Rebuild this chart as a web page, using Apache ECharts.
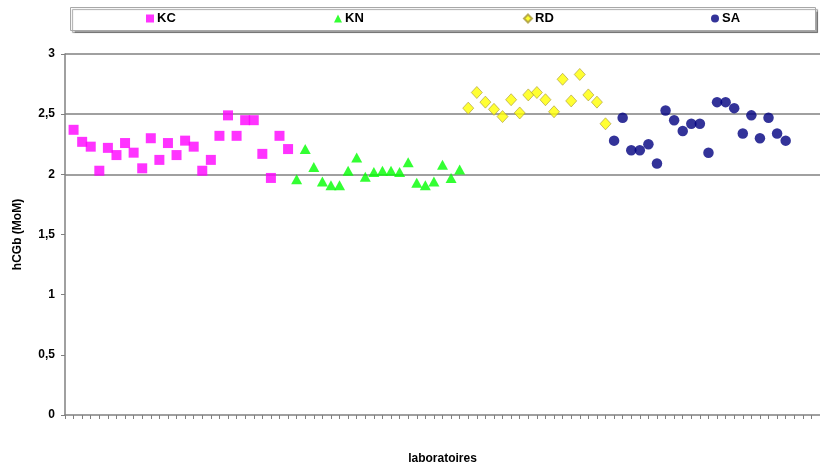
<!DOCTYPE html>
<html>
<head>
<meta charset="utf-8">
<script src="https://cdn.jsdelivr.net/npm/echarts@6/dist/echarts.min.js"></script>
<style>html,body{margin:0;padding:0;background:#fff;}#c{width:820px;height:470px;}</style>
</head>
<body>
<div id="c"></div>
<script>
// ---- data ----
const labCount = 89; // category slots on the x axis (index 0 empty)
const categories = Array.from({length: labCount}, () => '');
const yTicks = ['0', '0,5', '1', '1,5', '2', '2,5', '3'];

const kcStart = 1;
const kcValues = [2.37, 2.27, 2.23, 2.03, 2.22, 2.16, 2.26, 2.18, 2.05, 2.30, 2.12, 2.26, 2.16, 2.28, 2.23, 2.03, 2.12, 2.32, 2.49, 2.32, 2.45, 2.45, 2.17, 1.97, 2.32, 2.21];

const knStart = 27;
const knValues = [1.96, 2.21, 2.06, 1.94, 1.91, 1.91, 2.03, 2.14, 1.98, 2.02, 2.03, 2.03, 2.02, 2.10, 1.93, 1.91, 1.94, 2.08, 1.97, 2.04];

const rdStart = 47;
const rdValues = [2.55, 2.68, 2.60, 2.54, 2.48, 2.62, 2.51, 2.66, 2.68, 2.62, 2.52, 2.79, 2.61, 2.83, 2.66, 2.60, 2.42];

const saStart = 64;
const saValues = [2.28, 2.47, 2.20, 2.20, 2.25, 2.09, 2.53, 2.45, 2.36, 2.42, 2.42, 2.18, 2.60, 2.60, 2.55, 2.34, 2.49, 2.30, 2.47, 2.34, 2.28];

const seriesNames = ['KC', 'KN', 'RD', 'SA'];

function pairs(start, vals) { return vals.map((v, i) => [start + i, v]); }

const FONT = 'Liberation Sans, Arial, sans-serif';
const chart = echarts.init(document.getElementById('c'), null, {renderer: 'canvas'});

const legendLeft = [146, 334, 523, 711];
const legendIcons = ['rect', 'triangle', 'diamond', 'circle'];

const option = {
  backgroundColor: '#fff',
  animation: false,
  graphic: [{
    type: 'rect', z: -1,
    shape: {x: 70.5, y: 7.5, width: 745, height: 23},
    style: {fill: '#fff', stroke: '#a8a8a8', lineWidth: 1, shadowColor: 'rgba(0,0,0,0.35)', shadowOffsetX: 2, shadowOffsetY: 2, shadowBlur: 1}
  }],
  legend: seriesNames.map((n, i) => ({
    data: [{name: n, icon: legendIcons[i]}],
    left: legendLeft[i], top: 12, padding: 0,
    itemWidth: 8, itemHeight: 8, itemGap: 0,
    textStyle: {fontFamily: FONT, fontWeight: 'bold', fontSize: 13, color: '#000', padding: [0, 0, 0, -2]},
    selectedMode: false
  })),
  grid: {left: 65, top: 54, width: 758, height: 366, containLabel: false},
  xAxis: {
    type: 'category', data: categories, boundaryGap: false,
    name: 'laboratoires', nameLocation: 'middle', nameGap: 38,
    nameTextStyle: {fontFamily: FONT, fontWeight: 'bold', fontSize: 12, color: '#000'},
    axisLine: {lineStyle: {color: '#808080', width: 1.5}},
    axisTick: {show: true, interval: 0, length: 4, inside: false, lineStyle: {color: '#808080'}},
    axisLabel: {show: false},
    splitLine: {show: false}
  },
  yAxis: {
    type: 'value', min: 0, max: 3, interval: 0.5,
    name: 'hCGb (MoM)', nameLocation: 'middle', nameGap: 41, nameRotate: 90,
    nameTextStyle: {fontFamily: FONT, fontWeight: 'bold', fontSize: 12, color: '#000'},
    axisLine: {show: true, lineStyle: {color: '#808080', width: 1.5}},
    axisTick: {show: true, length: 4, lineStyle: {color: '#808080'}},
    axisLabel: {fontFamily: FONT, fontWeight: 'bold', fontSize: 12, color: '#000', margin: 10,
      formatter: v => yTicks[Math.round(v * 2)]},
    splitLine: {show: true, lineStyle: {color: ['transparent', 'transparent', 'transparent', 'transparent', '#808080', '#808080', '#808080'], width: 1.5}}
  },
  series: [
    {name: 'KC', type: 'scatter', data: pairs(kcStart, kcValues), symbol: 'rect', symbolSize: 10,
     itemStyle: {color: '#FF00FF'}},
    {name: 'KN', type: 'scatter', data: pairs(knStart, knValues), symbol: 'triangle', symbolSize: [11, 10],
     itemStyle: {color: '#00FF00'}},
    {name: 'RD', type: 'scatter', data: pairs(rdStart, rdValues), symbol: 'diamond', symbolSize: [11, 12],
     itemStyle: {color: '#FFFF00', borderColor: '#a89838', borderWidth: 0.8}},
    {name: 'SA', type: 'scatter', data: pairs(saStart, saValues), symbol: 'circle', symbolSize: 10.5,
     itemStyle: {color: '#000080'}}
  ]
};
chart.setOption(option);
</script>
</body>
</html>
